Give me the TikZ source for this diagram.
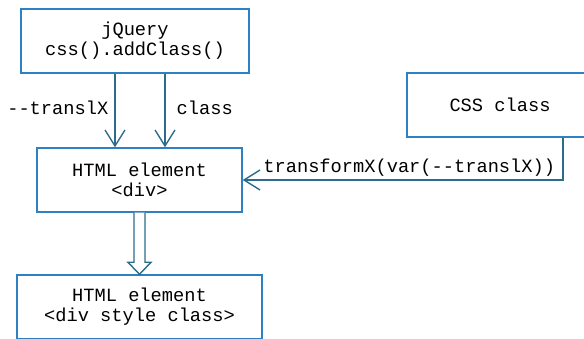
\documentclass[tikz,border=0pt]{standalone}
\usepackage{fontspec}
\setmonofont{Liberation Mono}
\usepackage{xcolor}
\usetikzlibrary{arrows.meta,positioning}
\definecolor{boxblue}{HTML}{2E80C0}
\definecolor{arrowblue}{HTML}{2B6C8C}
\tikzset{
	block/.style={draw=boxblue, line width=1.4pt, fill=white, align=center,
		font=\ttfamily\fontsize{18.7}{20}\selectfont, inner sep=0pt},
	flow/.style={draw=arrowblue, line width=1.4pt, -{Straight Barb[length=16pt,width=20pt]}},
	lbl/.style={font=\ttfamily\fontsize{18.7}{20}\selectfont, inner sep=2pt},
	hollow/.style={draw=arrowblue, line width=1.4pt, fill=white, line join=miter}
}

\begin{document}
\begin{tikzpicture}[x=1pt,y=1pt]
		\useasboundingbox (0,0) rectangle (584,339);
		\node[block, minimum width=228pt, minimum height=64pt] (jq) at (135,298)
			{jQuery\\css().addClass()};
		\node[block, minimum width=205pt, minimum height=64pt] (div) at (139.5,159)
			{HTML element\\<div>};
		\node[block, minimum width=186pt, minimum height=64pt] (css) at (500,234)
			{CSS class};
		\node[block, minimum width=245pt, minimum height=64pt] (out) at (139.5,32)
			{HTML element\\<div style class>};
		% properties set by jquery
		\draw[flow] (jq.south -| 115,0) -- (div.north -| 115,0)
			node[lbl, midway, left, xshift=-4pt, yshift=3pt] {--translX};
		\draw[flow] (jq.south -| 165,0) -- (div.north -| 165,0)
			node[lbl, midway, right, xshift=9pt, yshift=3pt] {class};
		% rule from the stylesheet
		\draw[flow] ([xshift=63pt]css.south) |- (div.east)
			node[lbl, pos=0.74, above, yshift=1pt] {transformX(var(--translX))};
		% result
		\draw[hollow] ([xshift=-5.5pt]div.south) -- ([xshift=-5.5pt,yshift=12pt]out.north)
			-- ([xshift=-11.5pt,yshift=12pt]out.north) -- (out.north)
			-- ([xshift=11.5pt,yshift=12pt]out.north) -- ([xshift=5.5pt,yshift=12pt]out.north)
			-- ([xshift=5.5pt]div.south);
	\end{tikzpicture}
\end{document}
